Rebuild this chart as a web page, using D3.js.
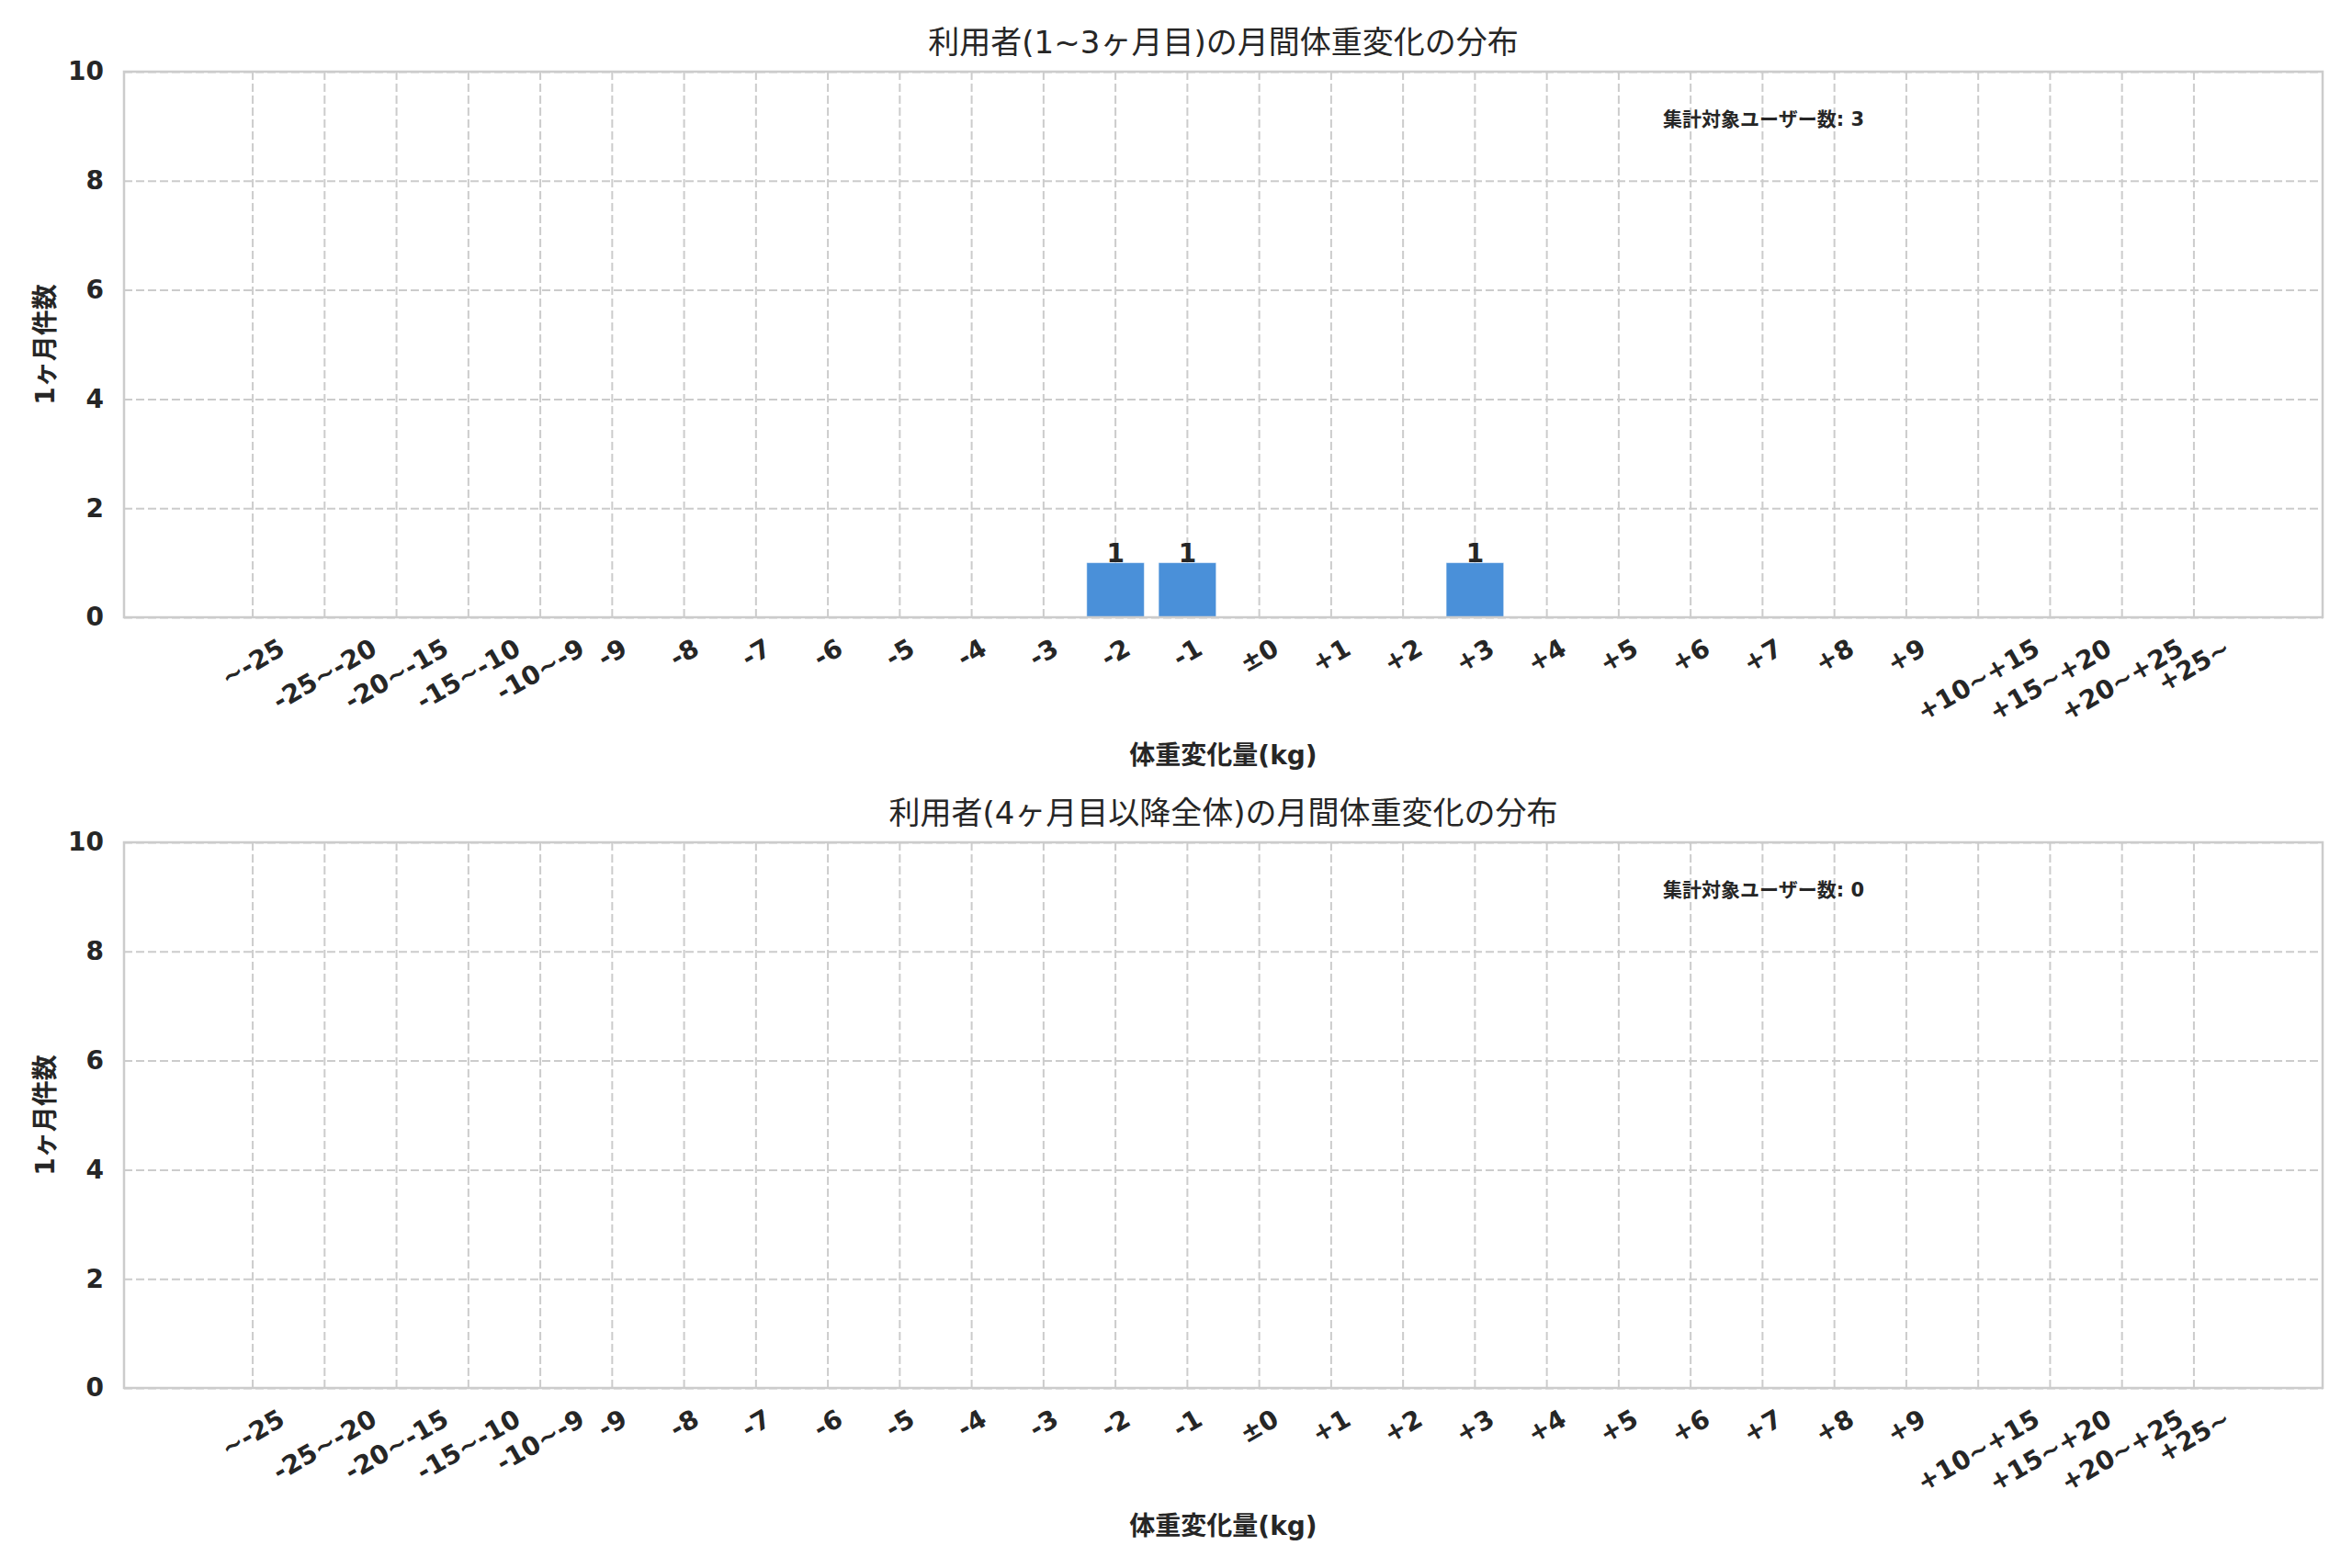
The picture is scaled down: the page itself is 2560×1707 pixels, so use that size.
<!DOCTYPE html>
<html>
<head>
  <meta charset="utf-8">
  <title>体重変化分布</title>
  <script src="https://cdn.jsdelivr.net/npm/d3@7"></script>
  <style type="text/css">
    body { margin: 0; background: #ffffff; }
    text { font-family: "DejaVu Sans", "Noto Sans CJK JP", sans-serif; fill: #262626; }
  </style>
</head>
<body>
<script>

// categories of weight change (kg)
var categories = ["~-25", "-25~-20", "-20~-15", "-15~-10", "-10~-9",
  "-9", "-8", "-7", "-6", "-5", "-4", "-3", "-2", "-1", "±0",
  "+1", "+2", "+3", "+4", "+5", "+6", "+7", "+8", "+9",
  "+10~+15", "+15~+20", "+20~+25", "+25~"];

// counts per category, one array per panel
var countsEarly = [0, 0, 0, 0, 0, 0, 0, 0, 0, 0, 0, 0, 1, 1, 0, 0, 0, 1, 0, 0, 0, 0, 0, 0, 0, 0, 0, 0];
var countsLate  = [0, 0, 0, 0, 0, 0, 0, 0, 0, 0, 0, 0, 0, 0, 0, 0, 0, 0, 0, 0, 0, 0, 0, 0, 0, 0, 0, 0];

var totals = [3, 0];
var titles = ["利用者(1~3ヶ月目)の月間体重変化の分布", "利用者(4ヶ月目以降全体)の月間体重変化の分布"];
var yTicks = [0, 2, 4, 6, 8, 10];
var xLabel = "体重変化量(kg)";
var yLabel = "1ヶ月件数";
var totalLabel = "集計対象ユーザー数";

var width = 2560;
var height = 1707;
var left = 135, right = 2528;
var panelTops = [78, 917];
var ph = 594;
var pw = right - left;
var gridColor = "#cccccc";
var barColor = "#4a90d9";

var svg = d3.select("body").append("svg")
  .attr("width", width).attr("height", height);

var x = d3.scaleBand()
  .domain(categories)
  .range([0, pw])
  .paddingInner(0.2)
  .paddingOuter(1.39);

var y = d3.scaleLinear().domain([0, 10]).range([ph, 0]);

function drawPanel(top, counts, title, total) {
  var g = svg.append("g").attr("transform", "translate(" + left + "," + top + ")");

  // grid lines
  g.append("g")
    .call(d3.axisLeft(y).tickValues(yTicks).tickSize(-pw).tickFormat(""))
    .call(function (a) { a.select(".domain").remove(); })
    .selectAll("line")
    .attr("stroke", gridColor).attr("stroke-width", 2).attr("stroke-dasharray", "9,4");

  g.append("g")
    .attr("transform", "translate(0," + ph + ")")
    .call(d3.axisBottom(x).tickSize(-ph).tickFormat(""))
    .call(function (a) { a.select(".domain").remove(); })
    .selectAll("line")
    .attr("stroke", gridColor).attr("stroke-width", 2).attr("stroke-dasharray", "9,4");

  // bars
  g.selectAll("rect.bar")
    .data(counts)
    .enter()
    .append("rect")
    .attr("class", "bar")
    .attr("x", function (d, i) { return x(categories[i]); })
    .attr("y", function (d) { return y(d); })
    .attr("width", x.bandwidth())
    .attr("height", function (d) { return ph - y(d); })
    .attr("fill", barColor)
    .attr("stroke", "#ffffff")
    .attr("stroke-opacity", 0.5)
    .attr("stroke-width", function (d) { return d > 0 ? 1 : 0; });

  // value labels
  g.selectAll("text.val")
    .data(counts.map(function (d, i) { return { v: d, c: categories[i] }; }).filter(function (d) { return d.v > 0; }))
    .enter()
    .append("text")
    .attr("class", "val")
    .attr("x", function (d) { return x(d.c) + x.bandwidth() / 2; })
    .attr("y", function (d) { return y(d.v) - 1; })
    .attr("text-anchor", "middle")
    .attr("font-size", 28)
    .attr("font-weight", "bold")
    .text(function (d) { return d.v; });

  // spines
  g.append("rect")
    .attr("width", pw).attr("height", ph)
    .attr("fill", "none").attr("stroke", gridColor).attr("stroke-width", 2.5);

  // y axis labels
  var ya = g.append("g")
    .call(d3.axisLeft(y).tickValues(yTicks).tickSize(0).tickPadding(22));
  ya.select(".domain").remove();
  ya.attr("font-size", null).attr("font-family", null);
  ya.selectAll("text")
    .attr("font-size", 28).attr("font-weight", "bold").attr("fill", "#262626");

  // x axis labels, rotated 30 degrees, centred on the tick
  var xa = g.append("g")
    .attr("transform", "translate(0," + ph + ")")
    .call(d3.axisBottom(x).tickSize(0).tickPadding(0));
  xa.select(".domain").remove();
  xa.attr("font-size", null).attr("font-family", null);
  xa.selectAll("text")
    .attr("font-size", 28).attr("font-weight", "bold").attr("fill", "#262626")
    .attr("y", 0).attr("dy", null)
    .attr("text-anchor", "middle")
    .attr("dominant-baseline", "central")
    .each(function () {
      var w = this.getComputedTextLength();
      var hh = w * 0.5 + 28 * 0.866;
      d3.select(this).attr("transform", "translate(0," + (19 + hh / 2) + ") rotate(-30)");
    });

  // total count note
  g.append("text")
    .attr("x", pw * 0.7)
    .attr("y", ph * 0.1)
    .attr("font-size", 21)
    .attr("font-weight", "bold")
    .text(totalLabel + ": " + total);

  // axis titles
  g.append("text")
    .attr("x", pw / 2).attr("y", ph + 160)
    .attr("text-anchor", "middle")
    .attr("font-size", 28).attr("font-weight", "bold")
    .text(xLabel);

  g.append("text")
    .attr("transform", "translate(" + (49 - left) + "," + (ph / 2) + ") rotate(-90)")
    .attr("text-anchor", "middle")
    .attr("dominant-baseline", "central")
    .attr("font-size", 28).attr("font-weight", "bold")
    .text(yLabel);

  g.append("text")
    .attr("x", pw / 2).attr("y", -20)
    .attr("text-anchor", "middle")
    .attr("font-size", 34)
    .text(title);
}

drawPanel(panelTops[0], countsEarly, titles[0], totals[0]);
drawPanel(panelTops[1], countsLate, titles[1], totals[1]);

</script>
</body>
</html>
